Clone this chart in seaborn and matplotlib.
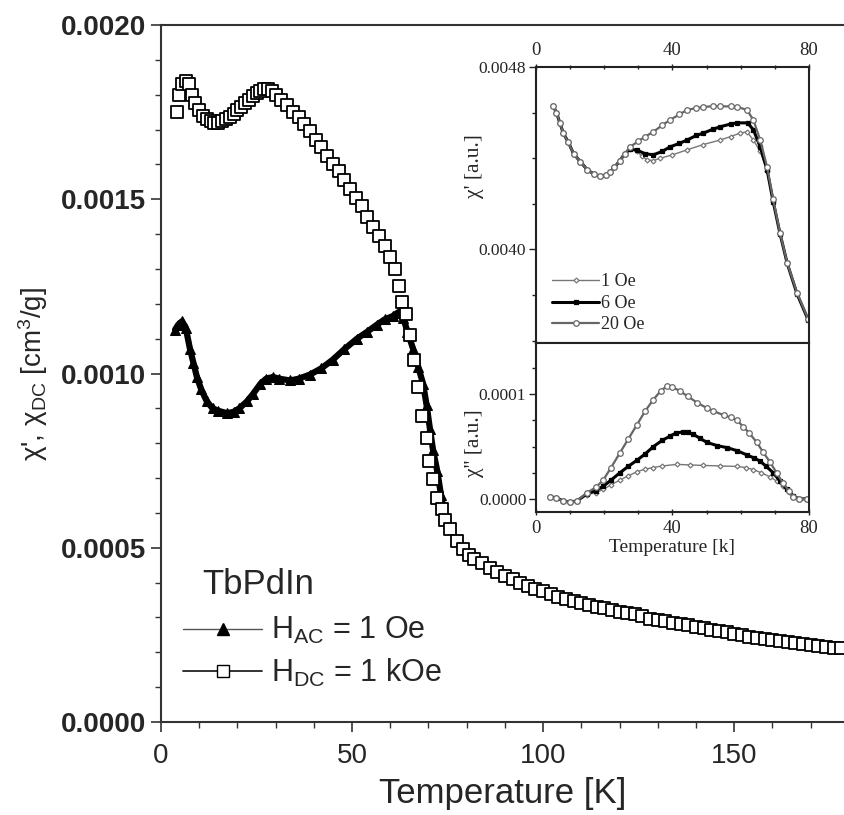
import matplotlib
matplotlib.use("Agg")
import matplotlib.pyplot as plt
from matplotlib.lines import Line2D
from matplotlib.ticker import MultipleLocator, FormatStrFormatter
import seaborn as sns

sns.set_style("ticks")
plt.rcParams['font.family'] = ['Liberation Sans', 'DejaVu Sans']
plt.rcParams['mathtext.default'] = 'regular'

# ---- main panel data (chi in 1e-3 cm^3/g) ----
T_ac = [3.7, 4.5, 5.5, 6.5, 7.6, 8.5, 9.4, 10.5, 12, 13.5, 15, 17.3, 19, 20.5,
        22.5, 24, 26, 27.5, 29.3, 31, 33.8, 36, 39, 42, 45, 48, 51.3, 54, 56.5,
        58.5, 60.7, 62, 63.4, 64.5, 66, 67.3, 68.6, 69.5, 70.4, 71.2, 72.3,
        73.3, 74.3]
chi_ac = [1.126, 1.14, 1.15, 1.13, 1.07, 1.03, 0.99, 0.955, 0.92, 0.90, 0.893,
          0.886, 0.89, 0.90, 0.92, 0.94, 0.97, 0.985, 0.99, 0.985, 0.98, 0.985,
          0.997, 1.015, 1.04, 1.07, 1.10, 1.12, 1.14, 1.155, 1.165, 1.175, 1.16,
          1.12, 1.07, 1.02, 0.97, 0.91, 0.84, 0.78, 0.72, 0.65, 0.59]

T_dc = [4.2, 4.7, 5.5, 6.5, 7.3, 8.2, 9.0, 10, 11, 12, 13, 14, 15, 16, 17, 18,
        19, 20, 21, 22, 23, 24, 25, 26, 27, 28, 29, 30, 31.5, 33, 34.5, 36,
        37.5, 39, 40.5, 42, 43.5, 45, 46.5, 48, 49.5, 51, 52.5, 54, 55.5, 57,
        58.5, 60, 61.3, 62.3, 63.2, 64, 65.2, 66.2, 67.2, 68.3, 69.6, 70.2,
        71.2, 72.3, 73.5, 74.3, 75.7, 77.4, 79, 80.5, 82, 84, 86, 88, 90, 92,
        94, 96, 98, 100, 102, 104, 106, 108, 110, 112, 114, 116, 118, 120, 122,
        124, 126, 128, 130, 132, 134, 136, 138, 140, 142, 144, 146, 148, 150,
        152, 154, 156, 158, 160, 162, 164, 166, 168, 170, 172, 174, 176, 178]
chi_dc = [1.75, 1.80, 1.83, 1.84, 1.83, 1.80, 1.775, 1.755, 1.74, 1.73, 1.725,
          1.72, 1.72, 1.725, 1.73, 1.735, 1.745, 1.755, 1.765, 1.775, 1.785,
          1.795, 1.805, 1.81, 1.815, 1.815, 1.81, 1.80, 1.785, 1.77, 1.75,
          1.735, 1.715, 1.695, 1.67, 1.65, 1.625, 1.60, 1.58, 1.555, 1.53,
          1.505, 1.48, 1.45, 1.42, 1.395, 1.365, 1.335, 1.30, 1.25, 1.205,
          1.17, 1.11, 1.04, 0.96, 0.877, 0.814, 0.75, 0.697, 0.643, 0.61,
          0.58, 0.554, 0.52, 0.497, 0.48, 0.468, 0.455, 0.443, 0.43, 0.42,
          0.41, 0.40, 0.39, 0.382, 0.375, 0.367, 0.36, 0.353, 0.347, 0.341,
          0.336, 0.331, 0.326, 0.321, 0.317, 0.313, 0.309, 0.305,
          0.297, 0.293, 0.289, 0.285, 0.281, 0.277, 0.273, 0.269, 0.265,
          0.261, 0.257, 0.253, 0.249, 0.245, 0.242, 0.239, 0.236, 0.233,
          0.230, 0.227, 0.224, 0.221, 0.218, 0.216, 0.213, 0.211]

# ---- inset: chi' (1e-3 a.u.) ----
T_re_20 = [5, 6, 7, 8, 9.5, 11, 13, 15, 17, 18.8, 20.5, 21.7, 23, 24.6, 26,
           27.6, 30, 32, 34.4, 37, 39.3, 42, 44.3, 47, 49, 52, 54, 57, 59,
           61.8, 63.7, 65.7, 67.7, 69.5, 71.5, 73.6, 76.5, 79.8]
re_20 = [4.63, 4.60, 4.555, 4.51, 4.47, 4.42, 4.385, 4.35, 4.33, 4.32, 4.325,
         4.34, 4.36, 4.39, 4.42, 4.45, 4.475, 4.495, 4.516, 4.545, 4.568,
         4.592, 4.612, 4.62, 4.625, 4.628, 4.628, 4.627, 4.625, 4.612, 4.568,
         4.48, 4.363, 4.22, 4.074, 3.943, 3.81, 3.694]
T_re_6 = [5, 6, 7, 8, 9.5, 11, 13, 15, 17, 18.8, 20.5, 21.7, 23, 24.6, 26,
          27.6, 29.6, 32, 34.4, 37, 39.3, 42, 44.3, 47, 49, 52, 54, 57, 59, 62,
          63.7, 65.7, 67.7, 69.5, 71.5, 73.6, 76.5, 79.8]
re_6 = [4.63, 4.60, 4.555, 4.51, 4.47, 4.42, 4.385, 4.35, 4.33, 4.32, 4.325,
        4.34, 4.36, 4.39, 4.42, 4.44, 4.435, 4.42, 4.415, 4.43, 4.45, 4.465,
        4.48, 4.50, 4.51, 4.528, 4.538, 4.55, 4.555, 4.555, 4.525, 4.45, 4.35,
        4.21, 4.07, 3.94, 3.805, 3.69]
T_re_1 = [5, 6, 7, 8, 9.5, 11, 13, 15, 17, 18.8, 20.5, 21.7, 23, 24.6, 26,
          27.6, 29.6, 31, 32.5, 34.4, 36.4, 40, 44.3, 49, 54, 57, 59.8, 61.8,
          63.7, 65.7, 67.7, 69.5, 71.5, 73.6, 76.5, 79.8]
re_1 = [4.63, 4.60, 4.555, 4.51, 4.47, 4.42, 4.385, 4.35, 4.33, 4.32, 4.325,
        4.34, 4.36, 4.39, 4.42, 4.44, 4.43, 4.41, 4.393, 4.39, 4.40, 4.415,
        4.437, 4.46, 4.48, 4.495, 4.51, 4.516, 4.48, 4.43, 4.345, 4.21, 4.07,
        3.94, 3.805, 3.69]

# ---- inset: chi'' (1e-4 a.u.) ----
T_im_20 = [4, 6, 8, 10, 12, 15, 17.5, 19.7, 22, 24.6, 27, 29.6, 32, 34.4,
           36.5, 38.4, 40, 42.2, 44.5, 47.2, 50, 52, 55, 57, 59, 60.7, 62.5,
           64.7, 66.5, 68.6, 70.5, 72.4, 74, 75.4, 77, 79.5]
im_20 = [0.02, 0.01, -0.02, -0.03, -0.02, 0.06, 0.11, 0.18, 0.30, 0.44, 0.57,
         0.71, 0.84, 0.95, 1.03, 1.08, 1.07, 1.03, 0.98, 0.92, 0.87, 0.84,
         0.80, 0.78, 0.75, 0.69, 0.63, 0.54, 0.45, 0.35, 0.25, 0.15, 0.08,
         0.02, 0.0, 0.0]
T_im_6 = [4, 6, 8, 10, 12, 15, 17.5, 19.7, 22, 24.6, 27, 29.6, 32, 34.4, 37,
          39.3, 41, 43.1, 44.5, 46, 48, 50.1, 53, 56, 59, 61.8, 64, 65.7, 67.5,
          69.5, 71.5, 73.5, 75.4, 77, 79.5]
im_6 = [0.02, 0.01, -0.02, -0.03, -0.02, 0.05, 0.08, 0.12, 0.18, 0.25, 0.31,
        0.37, 0.43, 0.50, 0.56, 0.60, 0.63, 0.64, 0.635, 0.62, 0.58, 0.54,
        0.51, 0.49, 0.46, 0.42, 0.39, 0.36, 0.31, 0.25, 0.17, 0.09, 0.03,
        0.0, 0.0]
T_im_1 = [4, 6, 8, 10, 12, 15, 17.5, 19.7, 22, 24.6, 27, 29.6, 32, 34.4, 37,
          41.3, 45, 49, 54, 59, 61.5, 63.7, 66, 68.6, 70.5, 72.4, 74, 75.4,
          77, 79.5]
im_1 = [0.02, 0.01, -0.02, -0.03, -0.02, 0.04, 0.06, 0.09, 0.135, 0.18, 0.22,
        0.26, 0.285, 0.30, 0.315, 0.33, 0.325, 0.32, 0.315, 0.31, 0.30, 0.28,
        0.25, 0.21, 0.17, 0.12, 0.07, 0.02, 0.0, 0.0]

fig = plt.figure(figsize=(8.45, 8.15), dpi=100)

# ---- main axes ----
ax = fig.add_axes([0.1905, 0.1141, 0.8095, 0.8552])
sns.lineplot(x=T_ac, y=[v * 1e-3 for v in chi_ac], ax=ax, sort=False,
             estimator=None, color='black', lw=4.5, marker='^', ms=7,
             mec='black', mfc='black', zorder=2)
sns.scatterplot(x=T_dc, y=[v * 1e-3 for v in chi_dc], ax=ax, marker='s',
                s=80, color='white', edgecolor='black', linewidth=1.3,
                zorder=3)
ax.set_xlim(0, 179)
ax.set_ylim(0, 0.002)
ax.xaxis.set_major_locator(MultipleLocator(50))
ax.xaxis.set_minor_locator(MultipleLocator(10))
ax.yaxis.set_major_locator(MultipleLocator(0.0005))
ax.yaxis.set_minor_locator(MultipleLocator(0.0001))
ax.yaxis.set_major_formatter(FormatStrFormatter('%.4f'))
ax.tick_params(which='major', direction='out', length=7, width=1.2,
               color='#333333', labelsize=20)
ax.tick_params(which='minor', direction='out', length=4, width=1.0,
               color='#333333')
ax.tick_params(axis='x', labelsize=20, pad=8)
for lab in ax.get_yticklabels():
    lab.set_fontweight('bold')
for s in ['left', 'bottom', 'top']:
    ax.spines[s].set_linewidth(1.5)
    ax.spines[s].set_color('#333333')
ax.spines['right'].set_visible(False)
ax.set_xlabel('Temperature [K]', fontsize=25, labelpad=6)
ax.set_ylabel("χ', χ$_{DC}$ [cm$^3$/g]", fontsize=20, labelpad=8)

ax.text(0.06, 0.197, 'TbPdIn', transform=ax.transAxes, fontsize=25,
        va='center', ha='left')
handles = [
    Line2D([], [], color='#555555', lw=1, marker='^', ms=8, mfc='black',
           mec='black'),
    Line2D([], [], color='#222222', lw=1.3, marker='s', ms=8, mfc='white',
           mec='black'),
]
ax.legend(handles, ['H$_{AC}$ = 1 Oe', 'H$_{DC}$ = 1 kOe'], loc='center left',
          bbox_to_anchor=(0.032, 0.100), frameon=False, fontsize=22,
          handlelength=2.6, handletextpad=0.3, labelspacing=0.35,
          borderpad=0, borderaxespad=0)

# ---- inset axes ----
serif = ['Liberation Serif', 'DejaVu Serif']
ax1 = fig.add_axes([0.6343, 0.5791, 0.3231, 0.3387])
ax2 = fig.add_axes([0.6343, 0.3718, 0.3231, 0.2073])

series_re = [(T_re_1, re_1, 'D', 2.5, 'white', '#777777', 1.0, '1 Oe'),
             (T_re_6, re_6, 's', 3.5, 'black', 'black', 2.2, '6 Oe'),
             (T_re_20, re_20, 'o', 4, 'white', '#666666', 1.6, '20 Oe')]
for tt, vv, mk, ms, fc, ec, lw, lab in series_re:
    sns.lineplot(x=tt, y=[v * 1e-3 for v in vv], ax=ax1, sort=False,
                 estimator=None, color=ec if fc == 'white' else 'black',
                 lw=lw, marker=mk, ms=ms, mfc=fc, mec=ec, mew=0.9, label=lab)

series_im = [(T_im_1, im_1, 'D', 2.5, 'white', '#777777', 1.0),
             (T_im_6, im_6, 's', 3.5, 'black', 'black', 2.2),
             (T_im_20, im_20, 'o', 4, 'white', '#666666', 1.6)]
for tt, vv, mk, ms, fc, ec, lw in series_im:
    sns.lineplot(x=tt, y=[v * 1e-4 for v in vv], ax=ax2, sort=False,
                 estimator=None, color=ec if fc == 'white' else 'black',
                 lw=lw, marker=mk, ms=ms, mfc=fc, mec=ec, mew=0.9)

ax1.set_xlim(0, 80)
ax1.set_ylim(0.00359, 0.0048)
ax2.set_xlim(0, 80)
ax2.set_ylim(-0.0000125, 0.000149)
for a in (ax1, ax2):
    a.set_facecolor('white')
    a.xaxis.set_major_locator(MultipleLocator(40))
    a.xaxis.set_minor_locator(MultipleLocator(10))
    for s in a.spines.values():
        s.set_linewidth(1.5)
        s.set_color('#222222')
    a.tick_params(which='major', length=5, width=1, color='#222222')
    a.tick_params(which='minor', length=3, width=1, color='#222222')
    a.tick_params(axis='x', which='both', direction='inout', labelsize=13.5)
    a.tick_params(axis='y', which='both', direction='out', labelsize=12.5,
                  pad=2)
    a.yaxis.set_major_formatter(FormatStrFormatter('%.4f'))

ax1.yaxis.set_major_locator(MultipleLocator(0.0008))
ax1.yaxis.set_minor_locator(MultipleLocator(0.0002))
ax1.xaxis.tick_top()
ax1.xaxis.set_label_position('top')
ax2.yaxis.set_major_locator(MultipleLocator(0.0001))
ax2.yaxis.set_minor_locator(MultipleLocator(0.000025))
for lab in ax1.get_xticklabels() + ax1.get_yticklabels() + \
        ax2.get_xticklabels() + ax2.get_yticklabels():
    lab.set_family(serif)

ax1.set_ylabel("χ' [a.u.]", fontsize=15.5, family=serif)
ax1.yaxis.set_label_coords(-0.19, 0.64)
ax2.set_ylabel("χ'' [a.u.]", fontsize=15.5, family=serif)
ax2.yaxis.set_label_coords(-0.19, 0.41)
ax2.set_xlabel('Temperature [k]', fontsize=14, family=serif, labelpad=1)

ax1.legend(loc='lower left', bbox_to_anchor=(0.06, 0.035), frameon=False,
           prop={'family': serif, 'size': 13}, handlelength=2.6,
           handletextpad=0.1, labelspacing=0.25, borderpad=0,
           borderaxespad=0)

fig.savefig('out.png', dpi=100)
